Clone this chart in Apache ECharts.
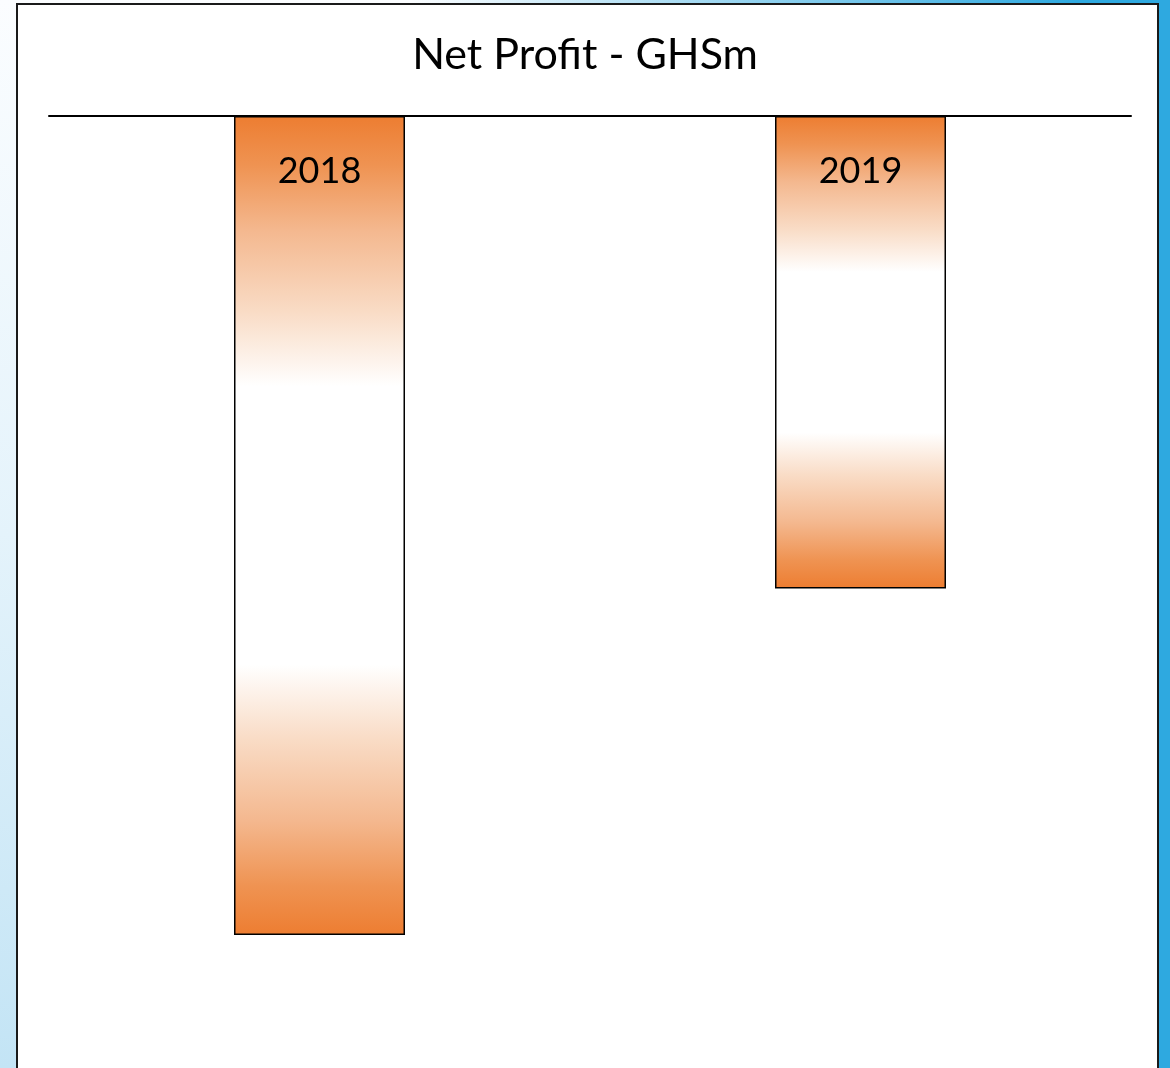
<!DOCTYPE html>
<html>
<head>
<meta charset="utf-8">
<script src="https://cdn.jsdelivr.net/npm/echarts@6/dist/echarts.min.js"></script>
<style>
  html, body { margin: 0; padding: 0; }
  body {
    width: 1170px;
    height: 1068px;
    overflow: hidden;
    position: relative;
    background:
      linear-gradient(90deg, rgba(46,169,224,0) 35%, rgba(46,169,224,0.6) 70%, #2ea9e0 92%),
      linear-gradient(180deg, #fbfdff 0%, #e4f3fb 50%, #c3e4f5 100%);
  }
  .panel {
    position: absolute;
    left: 16px;
    top: 3px;
    width: 1139px;
    height: 1120px;
    border: 2px solid #1a1a1a;
    background: #fff;
  }
  #chart { position: absolute; left: -18px; top: -5px; width: 1170px; height: 1068px; }
</style>
</head>
<body>
<div class="panel"><div id="chart"></div></div>
<script>
// Net profit (GHSm), both years negative
const years = ['2018', '2019']
const netProfit = [-52, -30]
const axisMin = -60
const axisMax = 0

const barFill = {
  type: 'linear',
  x: 0, y: 0, x2: 0, y2: 1,
  colorStops: [
    { offset: 0, color: '#ed7d31' },
    { offset: 0.06, color: '#ef9352' },
    { offset: 0.14, color: '#f4b88f' },
    { offset: 0.24, color: '#f9dcc6' },
    { offset: 0.33, color: '#ffffff' },
    { offset: 0.67, color: '#ffffff' },
    { offset: 0.76, color: '#f9dcc6' },
    { offset: 0.86, color: '#f4b88f' },
    { offset: 0.94, color: '#ef9352' },
    { offset: 1, color: '#ed7d31' },
  ],
}

const chart = echarts.init(document.getElementById('chart'))
chart.setOption({
  animation: false,
  title: {
    text: 'Net Profit - GHSm',
    left: 'center',
    top: 29,
    textStyle: { fontFamily: 'Lato', fontSize: 43, fontWeight: 'normal', color: '#000' },
  },
  grid: { left: 49, right: 39, top: 116, bottom: 7 },
  xAxis: {
    type: 'category',
    data: years,
    position: 'top',
    axisLine: { lineStyle: { color: '#000', width: 2 } },
    axisTick: { show: false },
    axisLabel: {
      inside: true,
      margin: 37,
      fontFamily: 'Lato',
      fontSize: 36,
      color: '#000',
    },
    z: 10,
  },
  yAxis: {
    type: 'value',
    min: axisMin,
    max: axisMax,
    show: false,
  },
  series: [
    {
      type: 'bar',
      data: netProfit,
      barWidth: 171,
      itemStyle: { color: barFill, borderColor: '#000', borderWidth: 1.5 },
    },
  ],
})
</script>
</body>
</html>
